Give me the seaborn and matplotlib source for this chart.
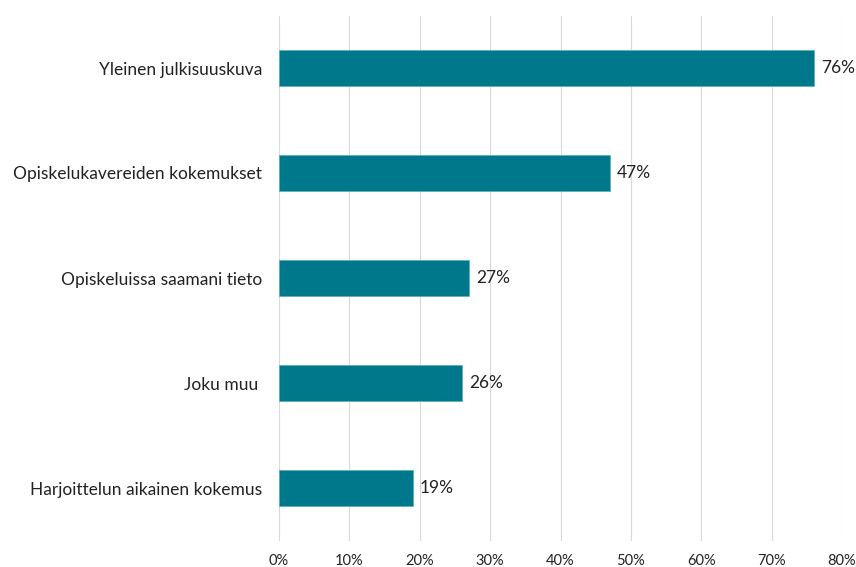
import pandas as pd
from matplotlib import pyplot as plt
from matplotlib.ticker import PercentFormatter
import seaborn as sns

categories = ["Yleinen julkisuuskuva", "Opiskelukavereiden kokemukset",
              "Opiskeluissa saamani tieto", "Joku muu ", "Harjoittelun aikainen kokemus"]
values = [76, 47, 27, 26, 19]
ticks = [0, 10, 20, 30, 40, 50, 60, 70, 80]

df = pd.DataFrame({"category": categories, "value": values})

sns.set_style("white")
plt.rcParams["font.family"] = ["Lato", "DejaVu Sans"]

fig = plt.figure(figsize=(8.56, 5.67), dpi=100)
ax = fig.add_axes([279 / 856, 1 - 540.5 / 567, (842 - 279) / 856, 525 / 567])

sns.barplot(data=df, x="value", y="category", orient="h", color="#00788C",
            saturation=1, width=0.35, edgecolor="#5fb0bd", linewidth=0.6, ax=ax, zorder=2)

for i, v in enumerate(values):
    ax.text(v + 1.0, i, f"{v}%", va="center", ha="left", fontsize=12.5, color="#222222")

ax.set_xlim(0, 80)
ax.set_ylim(4.5, -0.5)
ax.set_xticks(ticks)
ax.xaxis.set_major_formatter(PercentFormatter(decimals=0))
ax.grid(axis="x", color="#d9d9d9", linewidth=0.8, zorder=0)
ax.set_axisbelow(True)
ax.set_xlabel("")
ax.set_ylabel("")
sns.despine(ax=ax, left=True, bottom=True)
ax.tick_params(axis="x", length=0, labelsize=10.5, pad=10, colors="#222222")
ax.tick_params(axis="y", length=0, labelsize=12.5, pad=12, colors="#222222")

fig.savefig("out.png", dpi=100)
